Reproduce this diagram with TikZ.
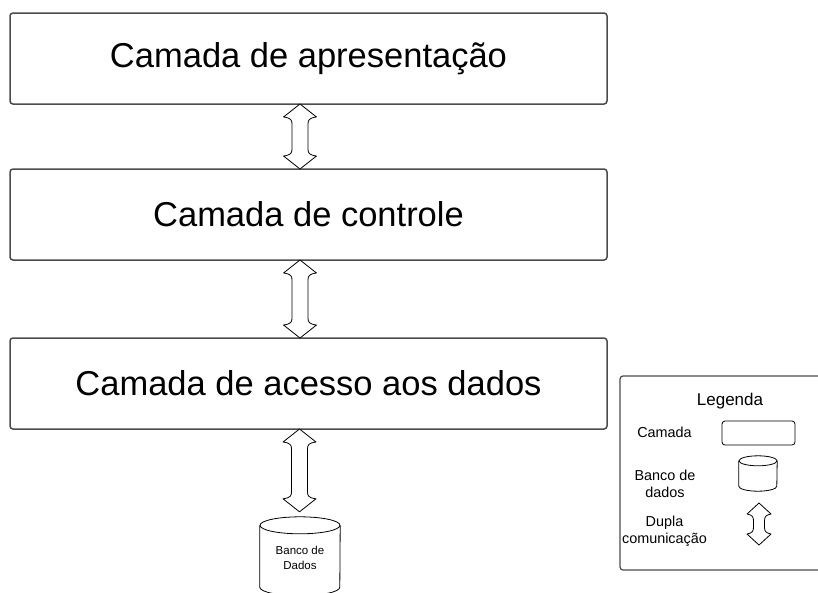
\documentclass[tikz,border=0pt]{standalone}
\usepackage{fontspec}
\setmainfont{Liberation Sans}
\usepackage{tikz}
\usetikzlibrary{positioning}
\usetikzlibrary{calc}

\tikzset{
    cabeca/.store in=\cabeca, haste/.store in=\haste, ponta/.store in=\ponta,
    folga/.store in=\folga, desloc/.store in=\desloc,
    cabeca=16.5pt, haste=8pt, ponta=13pt, folga=0pt, desloc=0pt,
    dupla/.style={draw=black, fill=white, line width=0.8pt, line join=round,
        to path={let \p1=(\tikztostart), \p2=(\tikztotarget), \p3=($(\p1)+(\desloc,0)$) in
            (\x3,\y1) -- (\x3+\cabeca,\y1-\ponta)
            .. controls (\x3+\haste+1pt,\y1-\ponta-1pt) and (\x3+\haste,\y1-\ponta-3pt) .. (\x3+\haste,\y1-\ponta-7pt)
            -- (\x3+\haste,\y2+\folga+\ponta+7pt)
            .. controls (\x3+\haste,\y2+\folga+\ponta+3pt) and (\x3+\haste+1pt,\y2+\folga+\ponta+1pt) .. (\x3+\cabeca,\y2+\folga+\ponta)
            -- (\x3,\y2+\folga) -- (\x3-\cabeca,\y2+\folga+\ponta)
            .. controls (\x3-\haste-1pt,\y2+\folga+\ponta+1pt) and (\x3-\haste,\y2+\folga+\ponta+3pt) .. (\x3-\haste,\y2+\folga+\ponta+7pt)
            -- (\x3-\haste,\y1-\ponta-7pt)
            .. controls (\x3-\haste,\y1-\ponta-3pt) and (\x3-\haste-1pt,\y1-\ponta-1pt) .. (\x3-\cabeca,\y1-\ponta)
            -- cycle}}
}

\begin{document}
\begin{tikzpicture}[x=1pt, y=-1pt, node distance={65pt},
    main/.style = {draw=black!70, line width=1.5pt, rounded corners=3pt, outer sep=0pt,
        minimum width=597pt, minimum height=91pt, font=\fontsize{34.5}{40}\selectfont},
    cil/.style = {draw=black, line width=0.8pt},
    leg/.style = {font=\fontsize{14.4}{17}\selectfont, align=center}]
    \useasboundingbox (0,0) rectangle (818,592);

    \node[main] (pres) at (308.5,58.5) {Camada de apresentação};
    \node[main] (ctrl) [below=of pres] {Camada de controle};
    \node[main] (acesso) [below=78pt of ctrl] {Camada de acesso aos dados};
    \node[minimum width=80pt, minimum height=84pt, align=center, font=\fontsize{11.5}{15.5}\selectfont]
        (banco) at (300,558) {Banco de\\Dados};

    % banco de dados
    \draw[cil] ([yshift=-9.5pt]banco.north west) -- ([yshift=13pt]banco.south west)
        arc[start angle=180, end angle=360, x radius=40pt, y radius=8.5pt] -- ([yshift=-9.5pt]banco.north east);
    \draw[cil] ([yshift=-9.5pt]banco.north) ellipse[x radius=40pt, y radius=8.5pt];

    \draw[dupla, desloc=-8.5pt] (pres.south) to (ctrl.north);
    \draw[dupla, desloc=-8.5pt] (ctrl.south) to (acesso.north);
    \draw[dupla, desloc=-9pt, folga=4pt] (acesso.south) to (banco.north);

    % legenda
    \node[draw=black!70, line width=1.2pt, rounded corners=3pt, minimum width=202pt, minimum height=194pt]
        (legenda) at (721,473) {};
    \node[font=\fontsize{17}{20}\selectfont] (titulo) at (730,401) {Legenda};
    \node[leg] (lcamada) at (664.5,432) {Camada};
    \node[draw=black, line width=0.8pt, rounded corners=3pt, minimum width=73pt, minimum height=24pt]
        (rcamada) at (758.5,433) {};
    \node[leg] (lbanco) at (665,483.5) {Banco de\\dados};
    \node[minimum width=38pt, minimum height=35pt] (cbanco) at (758,473.5) {};
    \draw[cil] ([yshift=-5pt]cbanco.north west) -- ([yshift=5pt]cbanco.south west)
        arc[start angle=180, end angle=360, x radius=19pt, y radius=5pt] -- ([yshift=-5pt]cbanco.north east);
    \draw[cil] ([yshift=-5pt]cbanco.north) ellipse[x radius=19pt, y radius=5pt];
    \node[leg] (ldupla) at (664.5,531) {Dupla\\comunicação};
    \coordinate (d1) at (759,503);
    \coordinate (d2) at (759,545);
    \draw[dupla, cabeca=12pt, haste=5.5pt, ponta=11pt] (d1) to (d2);
\end{tikzpicture}
\end{document}
